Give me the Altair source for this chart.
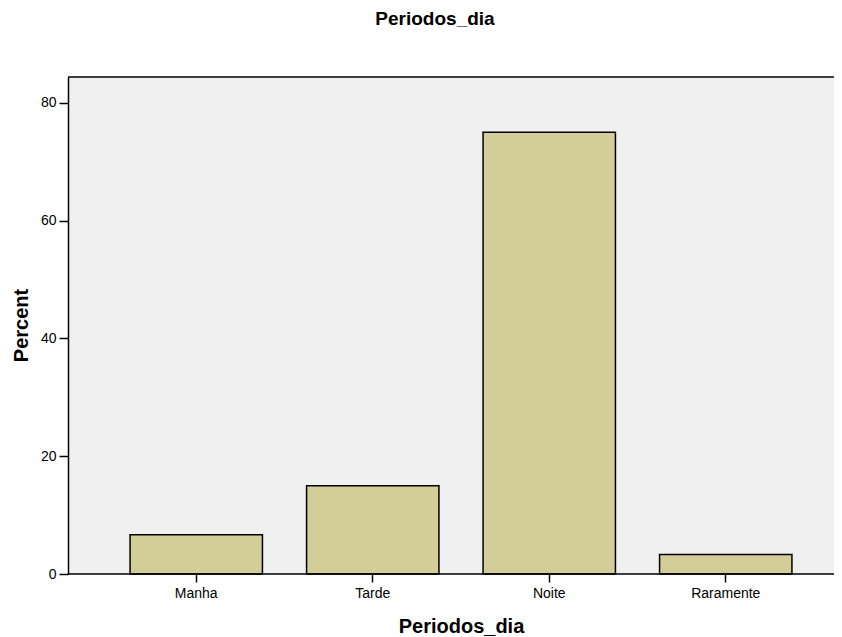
import altair as alt
import pandas as pd

categories = ["Manha", "Tarde", "Noite", "Raramente"]
percents = [6.67, 15.0, 75.0, 3.33]
y_ticks = [0, 20, 40, 60, 80]

df = pd.DataFrame({"Periodos_dia": categories, "Percent": percents})

FONT = "Liberation Sans"
W, H = 766, 497

bars = alt.Chart(df).mark_bar(
    fill="#d3ce98", stroke="black", strokeWidth=1.5
).encode(
    x=alt.X(
        "Periodos_dia:N",
        sort=categories,
        scale=alt.Scale(range=[40, 746], paddingInner=0.25, paddingOuter=0.125),
        axis=alt.Axis(
            title="Periodos_dia", labelAngle=0, labelFont=FONT, labelFontSize=14,
            labelColor="black", tickColor="black", tickSize=8, tickWidth=1.5,
            domain=False, labelPadding=4,
            titleFont=FONT, titleFontSize=20, titleFontWeight="bold", titleColor="black",
            titleY=58, titleBaseline="alphabetic",
        ),
    ),
    y=alt.Y(
        "Percent:Q",
        scale=alt.Scale(domain=[0, 84.4], nice=False),
        axis=alt.Axis(
            values=y_ticks, title="Percent", grid=False, labelFont=FONT, labelFontSize=14,
            labelColor="black", tickColor="black", tickSize=9, tickWidth=1.5,
            domainColor="black", domainWidth=1.5, labelPadding=3,
            titleFont=FONT, titleFontSize=20, titleFontWeight="bold", titleColor="black",
            titleX=-41, titleY=248, titleBaseline="alphabetic",
        ),
    ),
)

frame = alt.Chart(alt.Data(values=[{"y": 0}, {"y": H}])).mark_rule(
    color="black", strokeWidth=1.5
).encode(
    x=alt.value(0), x2=alt.value(W), y=alt.Y("y:Q", scale=None)
)

chart = alt.layer(bars, frame).properties(
    width=W,
    height=H,
    autosize="none",
    padding={"left": 60, "top": 69, "right": 0, "bottom": 63},
    title=alt.TitleParams(
        "Periodos_dia", font=FONT, fontSize=19, fontWeight="bold", color="black",
        anchor="middle", baseline="alphabetic", offset=32, dx=-16,
    ),
).configure_view(fill="#f0f0f0", strokeWidth=0)

chart.save("out.html", embed_options={"renderer": "svg", "actions": False})
